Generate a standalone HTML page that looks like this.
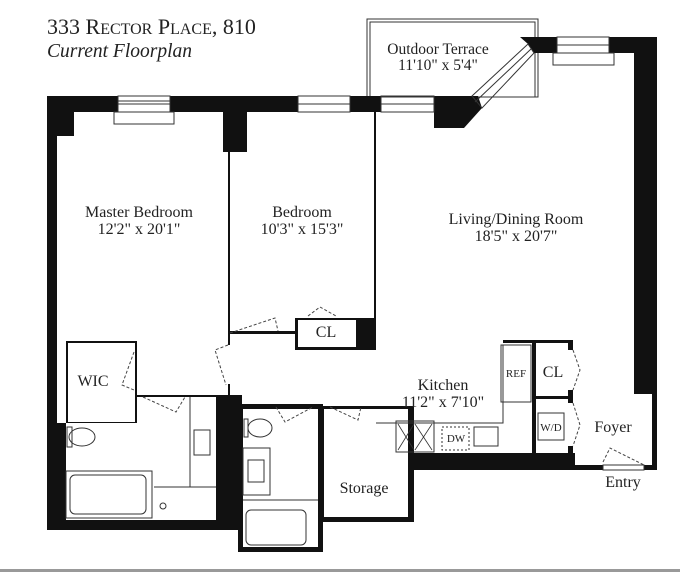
<!DOCTYPE html>
<html><head><meta charset="utf-8"><style>
html,body{margin:0;padding:0;background:#fff;}
svg{display:block;}
text{font-family:"Liberation Serif",serif;fill:#222;}
</style></head><body>
<svg width="680" height="572" viewBox="0 0 680 572" xmlns="http://www.w3.org/2000/svg">
<!-- title -->
<text x="47" y="34" font-size="22">333 R<tspan font-size="16">ECTOR</tspan> P<tspan font-size="16">LACE</tspan>, 810</text>
<text x="47" y="57" font-size="19.5" font-style="italic">Current Floorplan</text>

<!-- terrace -->
<rect x="367" y="19" width="171" height="78" fill="none" stroke="#333" stroke-width="1"/>
<rect x="370" y="22" width="165" height="75" fill="none" stroke="#333" stroke-width="1"/>
<text x="438" y="54" font-size="15.5" text-anchor="middle">Outdoor Terrace</text>
<text x="438" y="70" font-size="15.5" text-anchor="middle">11'10" x 5'4"</text>

<g fill="#111">
<rect x="47" y="96" width="71" height="16"/>
<rect x="47" y="96" width="27" height="40"/>
<rect x="47" y="96" width="10" height="434"/>
<rect x="170" y="96" width="128" height="16"/>
<rect x="223" y="96" width="24" height="56"/>
<rect x="350" y="96" width="31" height="16"/>
<polygon points="434,96 478,96 482,108 464,128 434,128"/>
<polygon points="528,44 520,37 557,37 557,53 534,53"/>
<rect x="609" y="37" width="48" height="16"/>
<rect x="634" y="37" width="23" height="357"/>
<rect x="652" y="390" width="5" height="80"/>
<rect x="228" y="152" width="2" height="193"/>
<rect x="228" y="384" width="2" height="12"/>
<rect x="374" y="112" width="2" height="238"/>
<rect x="230" y="331" width="65" height="3"/>
<rect x="295" y="318" width="81" height="32"/>
<rect x="66" y="341" width="71" height="82"/>
<rect x="47" y="423" width="19" height="107"/>
<rect x="47" y="520" width="195" height="10"/>
<rect x="216" y="395" width="26" height="135"/>
<rect x="137" y="395" width="79" height="2"/>
<rect x="238" y="404" width="85" height="148"/>
<rect x="318" y="406" width="96" height="116"/>
<rect x="372" y="406" width="4" height="52"/>
<rect x="372" y="453" width="285" height="8"/>
<rect x="409" y="453" width="248" height="17"/>
<rect x="503" y="340" width="70" height="3"/>
<rect x="532" y="340" width="4" height="113"/>
<rect x="532" y="396" width="41" height="3"/>
<rect x="568" y="340" width="5" height="10"/>
<rect x="568" y="390" width="5" height="13"/>
<rect x="568" y="446" width="5" height="10"/>
</g>
<g fill="#fff">
<rect x="68" y="343" width="67" height="79"/>
<rect x="66" y="425" width="150" height="95"/>
<rect x="243" y="409" width="75" height="138"/>
<rect x="324" y="409" width="84" height="108"/>
<rect x="298" y="320" width="58" height="27"/>
<rect x="536" y="343" width="32" height="53"/>
<rect x="536" y="399" width="32" height="54"/>
<rect x="575" y="396" width="77" height="69"/>
</g>
<g fill="none" stroke="#333" stroke-width="1">
<rect x="118" y="96" width="52" height="16"/><line x1="118" y1="104" x2="170" y2="104"/><line x1="118" y1="101" x2="170" y2="101"/>
<rect x="114" y="112" width="60" height="12"/>
<rect x="298" y="96" width="52" height="16"/><line x1="298" y1="104" x2="350" y2="104"/>
<rect x="381" y="96" width="53" height="16"/><line x1="381" y1="104" x2="434" y2="104"/>
<polygon points="472,96 528,44 534,53 482,108"/>
<line x1="475" y1="102" x2="531" y2="49"/>
<rect x="557" y="37" width="52" height="16"/><line x1="557" y1="45" x2="609" y2="45"/>
<rect x="553" y="53" width="61" height="12"/>
<rect x="603" y="465" width="41" height="5" fill="#fff"/>
<polyline points="376,423 503,423 503,345"/>
<rect x="501" y="345" width="30" height="57"/>
<rect x="396" y="421" width="38" height="31"/>
<path d="M398 424l16 26M414 424l-16 26M415 424l17 26M432 424l-17 26" stroke-width="0.8"/>
<rect x="442" y="427" width="27" height="23" stroke-dasharray="2,2"/>
<rect x="474" y="427" width="24" height="19"/>
<rect x="538" y="413" width="26" height="27"/>
<ellipse cx="82" cy="437" rx="13" ry="9"/><rect x="67" y="427" width="5" height="20"/>
<rect x="66" y="471" width="86" height="47"/><rect x="70" y="475" width="76" height="39" rx="5"/>
<line x1="190" y1="397" x2="190" y2="487"/><line x1="154" y1="487" x2="216" y2="487"/>
<rect x="194" y="430" width="16" height="25"/>
<circle cx="163" cy="506" r="3"/>
<ellipse cx="260" cy="428" rx="12" ry="9"/><rect x="244" y="419" width="4" height="18"/>
<rect x="243" y="448" width="27" height="47"/><rect x="248" y="460" width="16" height="22"/>
<line x1="243" y1="500" x2="318" y2="500"/>
<rect x="246" y="510" width="60" height="35" rx="5"/>
</g>
<g fill="none" stroke="#444" stroke-width="1" stroke-dasharray="3,2">
<path d="M230 333 L275 318 L278 331"/>
<path d="M308 316 L320 307 L336 316"/>
<path d="M228 345 L215 350 L226 385"/>
<path d="M134 352 L122 385 L134 390"/>
<path d="M143 397 L176 412 L185 397"/>
<path d="M276 407 L285 422 L313 407"/>
<path d="M330 407 L358 420 L361 407"/>
<path d="M573 350 L580 370 L573 390"/>
<path d="M573 403 L580 425 L573 446"/>
<path d="M603 462 L610 448 L644 465"/>
</g>
<g font-size="16" text-anchor="middle">
<text x="139" y="217">Master Bedroom</text><text x="139" y="234">12'2" x 20'1"</text>
<text x="302" y="217">Bedroom</text><text x="302" y="234">10'3" x 15'3"</text>
<text x="516" y="224">Living/Dining Room</text><text x="516" y="241">18'5" x 20'7"</text>
<text x="443" y="390">Kitchen</text><text x="443" y="407">11'2" x 7'10"</text>
<text x="326" y="337">CL</text>
<text x="93" y="386">WIC</text>
<text x="553" y="377">CL</text>
<text x="364" y="493">Storage</text>
<text x="613" y="432">Foyer</text>
<text x="623" y="487">Entry</text>
<text x="516" y="377" font-size="11">REF</text>
<text x="551" y="431" font-size="11">W/D</text>
<text x="456" y="442" font-size="11">DW</text>
</g>
<rect x="0" y="569" width="680" height="3" fill="#999"/>
</svg>
</body></html>
